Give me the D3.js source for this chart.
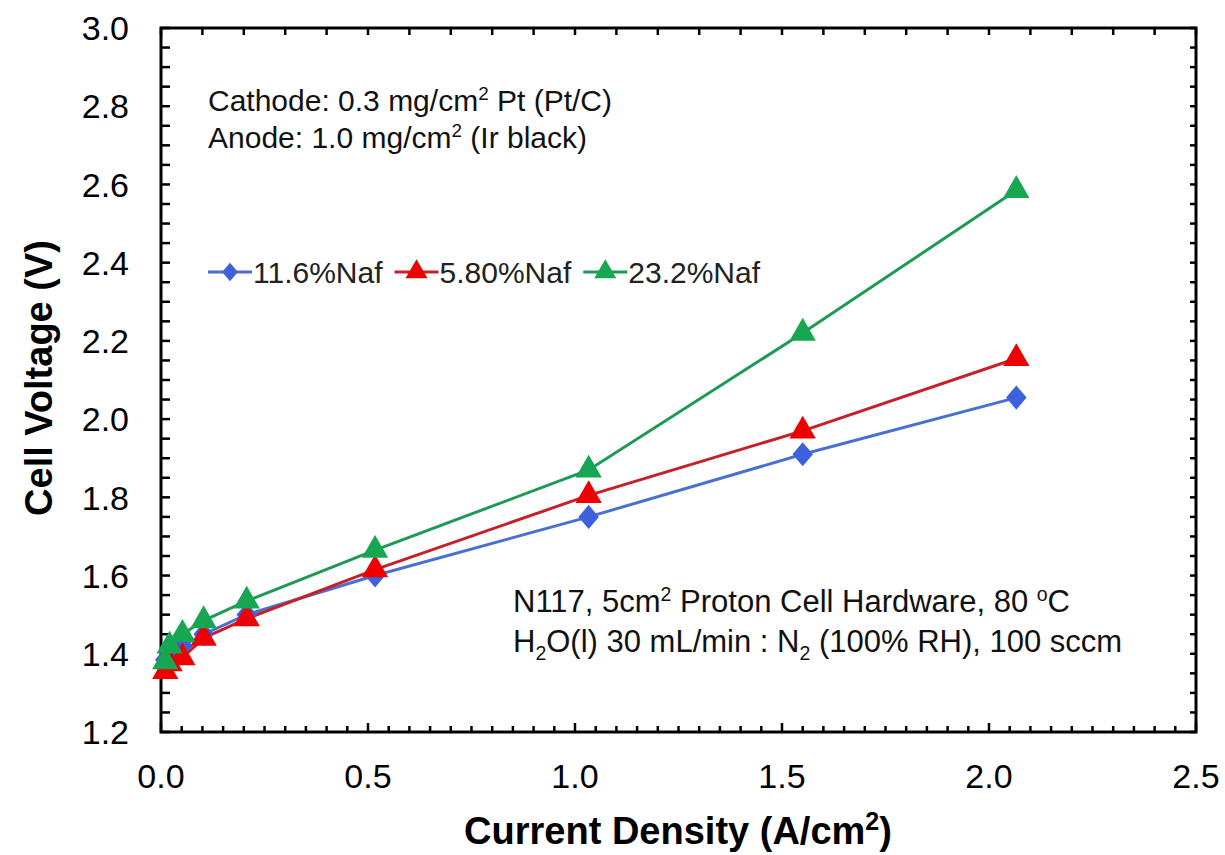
<!DOCTYPE html>
<html>
<head>
<meta charset="utf-8">
<script src="https://cdn.jsdelivr.net/npm/d3@7"></script>
<style>
  body { margin: 0; background: #fff; }
  text { font-family: "Liberation Sans", Arial, sans-serif; }
</style>
</head>
<body>
<div id="chart"></div>
<script>
// current density (A/cm2), same for every series
var current = [0.0103, 0.0207, 0.0517, 0.103, 0.207, 0.517, 1.033, 1.55, 2.066];
var naf116 = [1.385, 1.405, 1.42, 1.45, 1.50, 1.60, 1.75, 1.91, 2.055];
var naf58 = [1.355, 1.375, 1.39, 1.44, 1.49, 1.615, 1.805, 1.97, 2.155];
var naf232 = [1.38, 1.42, 1.45, 1.485, 1.535, 1.665, 1.87, 2.22, 2.585];

var seriesNames = ["11.6%Naf", "5.80%Naf", "23.2%Naf"];
var xTicks = [0, 0.5, 1.0, 1.5, 2.0, 2.5];
var yTicks = [1.2, 1.4, 1.6, 1.8, 2.0, 2.2, 2.4, 2.6, 2.8, 3.0];

// square-ish diamond like the spreadsheet marker
var diamond = {
    draw: function(ctx, size) {
        var r = Math.sqrt(size / 2);
        var w = r * 0.85;
        ctx.moveTo(0, -r); ctx.lineTo(w, 0); ctx.lineTo(0, r); ctx.lineTo(-w, 0); ctx.closePath();
    }
};

var series = [
    {name: seriesNames[0], values: naf116, line: "#4a6fd3", fill: "#3d60dd", shape: diamond, size: 290, lsize: 170},
    {name: seriesNames[1], values: naf58, line: "#c42129", fill: "#ee0000", shape: d3.symbolTriangle, size: 300, lsize: 210},
    {name: seriesNames[2], values: naf232, line: "#1f9a55", fill: "#17a651", shape: d3.symbolTriangle, size: 300, lsize: 210}
];

var W = 1225, H = 855;
var margin = {top: 28, right: 29, bottom: 123, left: 161};

var svg = d3.select("#chart").append("svg")
    .attr("width", W)
    .attr("height", H);

var x = d3.scaleLinear().domain([0, 2.5]).range([margin.left, W - margin.right]);
var y = d3.scaleLinear().domain([1.2, 3.0]).range([H - margin.bottom, margin.top]);

var x0 = x.range()[0], x1 = x.range()[1], y0 = y.range()[0], y1 = y.range()[1];

// tick marks, all pointing inside the frame
var g = svg.append("g").attr("stroke", "#000").attr("stroke-width", 2.5);
d3.range(0, 2.5001, 0.05).forEach(function(v) {
    var major = Math.abs(v * 2 - Math.round(v * 2)) < 1e-6;
    g.append("line").attr("x1", x(v)).attr("x2", x(v))
        .attr("y1", y0).attr("y2", y0 - (major ? 9 : 6));
});
d3.range(0, 2.5001, 0.1).forEach(function(v) {
    g.append("line").attr("x1", x(v)).attr("x2", x(v))
        .attr("y1", y1).attr("y2", y1 + 7);
});
d3.range(1.2, 3.0001, 0.05).forEach(function(v) {
    g.append("line").attr("x1", x0).attr("x2", x0 + 9)
        .attr("y1", y(v)).attr("y2", y(v));
    g.append("line").attr("x1", x1).attr("x2", x1 - 6)
        .attr("y1", y(v)).attr("y2", y(v));
});

svg.append("rect")
    .attr("x", x0).attr("y", y1)
    .attr("width", x1 - x0).attr("height", y0 - y1)
    .attr("fill", "none").attr("stroke", "#000").attr("stroke-width", 3);

// tick labels
svg.append("g").selectAll("text").data(xTicks).enter().append("text")
    .attr("x", function(d) { return x(d); })
    .attr("y", y0 + 56)
    .attr("text-anchor", "middle")
    .attr("font-size", 34)
    .text(function(d) { return d3.format(".1f")(d); });

svg.append("g").selectAll("text").data(yTicks).enter().append("text")
    .attr("x", x0 - 32)
    .attr("y", function(d) { return y(d); })
    .attr("dy", "0.36em")
    .attr("text-anchor", "end")
    .attr("font-size", 34)
    .text(function(d) { return d3.format(".1f")(d); });

// axis titles
var xt = svg.append("text")
    .attr("x", 678).attr("y", 844)
    .attr("text-anchor", "middle")
    .attr("font-size", 38).attr("font-weight", "bold");
xt.append("tspan").text("Current Density (A/cm");
xt.append("tspan").attr("dy", -14).attr("font-size", 25).text("2");
xt.append("tspan").attr("dy", 14).text(")");

svg.append("text")
    .attr("transform", "translate(52,378) rotate(-90)")
    .attr("text-anchor", "middle")
    .attr("font-size", 38).attr("font-weight", "bold")
    .text("Cell Voltage (V)");

// lines and markers
var line = d3.line()
    .x(function(d, i) { return x(current[i]); })
    .y(function(d) { return y(d); });

series.forEach(function(s) {
    svg.append("path")
        .attr("d", line(s.values))
        .attr("fill", "none")
        .attr("stroke", s.line)
        .attr("stroke-width", 3);
});
series.forEach(function(s) {
    svg.append("g").selectAll("path").data(s.values).enter().append("path")
        .attr("transform", function(d, i) { return "translate(" + x(current[i]) + "," + y(d) + ")"; })
        .attr("d", d3.symbol().type(s.shape).size(s.size))
        .attr("fill", s.fill);
});

// legend
var legend = svg.append("g").attr("transform", "translate(208,272)");
var lx = 0;
series.forEach(function(s) {
    var item = legend.append("g").attr("transform", "translate(" + lx + ",0)");
    item.append("line").attr("x1", 0).attr("x2", 44).attr("y1", 0).attr("y2", 0)
        .attr("stroke", s.line).attr("stroke-width", 3);
    item.append("path").attr("transform", "translate(22,0)")
        .attr("d", d3.symbol().type(s.shape).size(s.lsize))
        .attr("fill", s.fill);
    var t = item.append("text").attr("x", 45).attr("dy", "0.36em")
        .attr("font-size", 30).attr("fill", "#222").text(s.name);
    lx += 45 + t.node().getComputedTextLength() + 12;
});

// annotations
function note(xp, yp, size, parts) {
    var t = svg.append("text").attr("x", xp).attr("y", yp).attr("font-size", size).attr("fill", "#111");
    parts.forEach(function(p) {
        var sp = t.append("tspan").text(p[0]);
        if (p[1] === "sup") sp.attr("dy", -11).attr("font-size", size * 0.63);
        if (p[1] === "sub") sp.attr("dy", 8).attr("font-size", size * 0.63);
        if (p[1] === "back") sp.attr("dy", 11);
        if (p[1] === "up") sp.attr("dy", -8);
    });
}
note(208, 111, 30, [["Cathode: 0.3 mg/cm"], ["2", "sup"], [" Pt (Pt/C)", "back"]]);
note(208, 148, 30, [["Anode:  1.0 mg/cm"], ["2", "sup"], [" (Ir black)", "back"]]);
note(513, 612, 31, [["N117, 5cm"], ["2", "sup"], [" Proton Cell Hardware, 80 ", "back"], ["o", "sup"], ["C", "back"]]);
note(513, 652, 31, [["H"], ["2", "sub"], ["O(l) 30 mL/min  : N", "up"], ["2", "sub"], [" (100% RH), 100 sccm", "up"]]);
</script>
</body>
</html>
